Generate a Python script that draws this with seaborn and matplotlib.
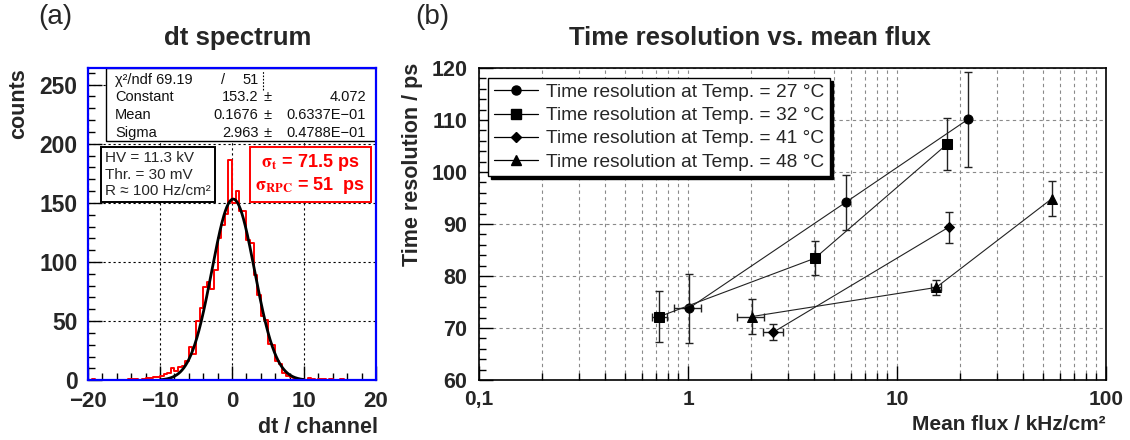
import numpy as np
import pandas as pd
import seaborn as sns
import matplotlib
matplotlib.use("Agg")
import matplotlib.pyplot as plt
from matplotlib.lines import Line2D
from matplotlib.patches import Rectangle
from matplotlib.ticker import MultipleLocator, FixedLocator, FixedFormatter, NullFormatter

# ---------------- panel (a): dt spectrum ----------------
bin_width = 0.5
bin_range = (-20.0, 20.0)
bin_counts = [
    0, 1, 0, 0, 0, 0, 0, 0, 0, 0,
    0, 1, 1, 1, 0, 1, 2, 2, 3, 3,
    4, 5, 6, 10, 8, 11, 12, 16, 28, 22,
    50, 61, 79, 83, 77, 93, 120, 131, 141, 186,
    150, 160, 143, 143, 119, 116, 89, 72, 54, 51,
    31, 30, 16, 14, 6, 4, 3, 2, 1, 1,
    0, 2, 1, 0, 1, 1, 0, 1, 0, 0,
    1, 0, 0, 0, 0, 0, 0, 0, 0, 0,
]
fit_constant = 153.2
fit_mean = 0.1676
fit_sigma = 2.963
fit_range = (-10.0, 10.0)

stats_rows = [
    ("\u03c7\u00b2/ndf 69.19", "/", "51", ""),
    ("Constant", "153.2", "\u00b1", "4.072"),
    ("Mean", "0.1676", "\u00b1", "0.6337E\u221201"),
    ("Sigma", "2.963", "\u00b1", "0.4788E\u221201"),
]
run_info = "HV = 11.3 kV\nThr. = 30 mV\nR \u2248 100 Hz/cm\u00b2"

# ---------------- panel (b): time resolution vs flux ----------------
series_labels = ["Time resolution at Temp. = 27 \u00b0C",
                 "Time resolution at Temp. = 32 \u00b0C",
                 "Time resolution at Temp. = 41 \u00b0C",
                 "Time resolution at Temp. = 48 \u00b0C"]
flux_27 = [1.01, 5.7, 21.8]
res_27 = [73.8, 94.2, 110.1]
res_err_27 = [6.6, 5.3, 9.2]
flux_err_27 = [0.15, 0.0, 0.0]

flux_32 = [0.73, 4.04, 17.3]
res_32 = [72.2, 83.4, 105.3]
res_err_32 = [4.9, 3.3, 5.0]
flux_err_32 = [0.06, 0.15, 0.0]

flux_41 = [2.56, 17.7]
res_41 = [69.2, 89.4]
res_err_41 = [1.6, 3.0]
flux_err_41 = [0.28, 0.0]

flux_48 = [2.02, 15.4, 55.2]
res_48 = [72.2, 77.8, 94.9]
res_err_48 = [3.4, 1.5, 3.3]
flux_err_48 = [0.3, 0.8, 0.0]

markers = ["o", "s", "D", "^"]
marker_sizes = [6.5, 7, 5.5, 7]

# ---------------- style ----------------
sns.set_theme(style="white")
plt.rcParams["font.family"] = ["Liberation Sans", "DejaVu Sans"]
plt.rcParams["mathtext.fontset"] = "stix"
plt.rcParams["axes.unicode_minus"] = True

fig = plt.figure(figsize=(11.3, 4.4), dpi=100)
fig.patch.set_facecolor("white")
ax1 = fig.add_axes([88 / 1130, 1 - 380.3 / 440, 288 / 1130, 312.3 / 440])
ax2 = fig.add_axes([479 / 1130, 1 - 380 / 440, 627 / 1130, 312 / 440])

# ---- panel (a)
n_bins = len(bin_counts)
centers = bin_range[0] + bin_width * (np.arange(n_bins) + 0.5)
hist_df = pd.DataFrame({"dt": centers, "counts": bin_counts})
sns.histplot(data=hist_df, x="dt", weights="counts", bins=n_bins, binrange=bin_range,
             element="step", fill=False, color="red", linewidth=1.4, ax=ax1, zorder=3)
fx = np.linspace(fit_range[0], fit_range[1], 400)
fy = fit_constant * np.exp(-0.5 * ((fx - fit_mean) / fit_sigma) ** 2)
sns.lineplot(x=fx, y=fy, color="black", linewidth=2.0, ax=ax1, zorder=4)

ax1.set_xlim(-20, 20)
ax1.set_ylim(0, 264)
ax1.xaxis.set_major_locator(MultipleLocator(10))
ax1.xaxis.set_minor_locator(MultipleLocator(2))
ax1.yaxis.set_major_locator(MultipleLocator(50))
ax1.yaxis.set_minor_locator(MultipleLocator(10))
ax1.grid(which="major", color="black", linestyle=(0, (2, 2.5)), linewidth=0.8)
ax1.tick_params(which="major", direction="in", length=10, width=1, color="black",
                labelsize=16.5, left=True, bottom=True)
ax1.tick_params(axis="x", which="major", pad=8, labelsize=16)
ax1.tick_params(axis="y", which="major", pad=7.5)
ax1.tick_params(which="minor", direction="in", length=5, width=1, color="black",
                left=True, bottom=True)
for lab in ax1.get_xticklabels() + ax1.get_yticklabels():
    lab.set_fontweight("bold")
for sp in ax1.spines.values():
    sp.set_edgecolor("blue")
    sp.set_linewidth(1.6)
    sp.set_zorder(10)
ax1.set_xlabel("dt / channel", fontsize=15.5, fontweight="bold", loc="right")
ax1.xaxis.set_label_coords(1.007, -0.117)
ax1.set_ylabel("counts", fontsize=15.5, fontweight="bold", loc="top")
ax1.yaxis.set_label_coords(-0.205, 1.0)

# stats box
sx0 = (106 - 88) / 288
sy0 = (380.3 - 141) / 312.3
ax1.add_patch(Rectangle((sx0, sy0), 1 - sx0, 1 - sy0, transform=ax1.transAxes,
                        facecolor="white", edgecolor="black", linewidth=1.0, zorder=6))
row_y = [0.962, 0.906, 0.850, 0.793]
for (c0, c1, c2, c3), yy in zip(stats_rows, row_y):
    kw = dict(transform=ax1.transAxes, fontsize=10.5, va="center", zorder=7, color="#111111")
    ax1.text(0.094, yy, c0, ha="left", **kw)
    if c1 == "/":
        ax1.text(0.47, yy, c1, ha="center", **kw)
        ax1.text(0.592, yy, c2, ha="right", **kw)
    else:
        ax1.text(0.592, yy, c1, ha="right", **kw)
        ax1.text(0.625, yy, c2, ha="center", **kw)
        ax1.text(0.965, yy, c3, ha="right", **kw)
ax1.plot([0.608, 0.608], [0.93, 0.995], transform=ax1.transAxes, color="black",
         linestyle=(0, (1.5, 1.5)), linewidth=0.8, zorder=7)

# run info box
ax1.text(0.06, 0.735, run_info, transform=ax1.transAxes, fontsize=11, ha="left", va="top",
         linespacing=1.25, zorder=7,
         bbox=dict(boxstyle="square,pad=0.25", facecolor="white", edgecolor="black", linewidth=1.4))
# sigma box
ax1.text(0.771, 0.66, "$\\mathbf{\\sigma_{t}}$ = 71.5 ps\n$\\mathbf{\\sigma_{RPC}}$ = 51  ps",
         transform=ax1.transAxes, fontsize=13, fontweight="bold", color="red",
         ha="center", va="center", linespacing=1.15, zorder=7,
         bbox=dict(boxstyle="square,pad=0.3", facecolor="white", edgecolor="red", linewidth=1.4))

# ---- panel (b)
all_flux = [flux_27, flux_32, flux_41, flux_48]
all_res = [res_27, res_32, res_41, res_48]
all_rerr = [res_err_27, res_err_32, res_err_41, res_err_48]
all_ferr = [flux_err_27, flux_err_32, flux_err_41, flux_err_48]
for fl, rs, re_, fe, mk, ms in zip(all_flux, all_res, all_rerr, all_ferr, markers, marker_sizes):
    ax2.errorbar(fl, rs, yerr=re_, xerr=fe, fmt="none", ecolor="#222222",
                 elinewidth=1.0, capsize=3, capthick=1.0, zorder=3)
    sns.lineplot(x=fl, y=rs, marker=mk, markersize=ms, color="#222222", linewidth=0.8,
                 markeredgecolor="black", markerfacecolor="black", ax=ax2, zorder=4,
                 legend=False, sort=False)

ax2.set_xscale("log")
ax2.set_xlim(0.1, 100)
ax2.set_ylim(60, 120)
minor_x = [m * 10.0 ** e for e in (-1, 0, 1) for m in range(2, 10)]
ax2.xaxis.set_major_locator(FixedLocator([0.1, 1, 10, 100]))
ax2.xaxis.set_major_formatter(FixedFormatter(["0,1", "1", "10", "100"]))
ax2.xaxis.set_minor_locator(FixedLocator(minor_x))
ax2.xaxis.set_minor_formatter(NullFormatter())
ax2.yaxis.set_major_locator(MultipleLocator(10))
ax2.yaxis.set_minor_locator(MultipleLocator(2))
ax2.grid(which="both", axis="x", color="#8a8a8a", linestyle=(0, (3, 3)), linewidth=0.8)
ax2.grid(which="major", axis="y", color="#8a8a8a", linestyle=(0, (3, 3)), linewidth=0.8)
ax2.tick_params(which="major", direction="in", length=10, width=1, color="black",
                labelsize=15.5, left=True, bottom=True)
ax2.tick_params(axis="x", which="major", pad=7.5, labelsize=15)
ax2.tick_params(axis="y", which="major", pad=8.5)
ax2.tick_params(which="minor", direction="in", length=5, width=1, color="black",
                left=True, bottom=True)
for lab in ax2.get_xticklabels() + ax2.get_yticklabels():
    lab.set_fontweight("bold")
for sp in ax2.spines.values():
    sp.set_edgecolor("black")
    sp.set_linewidth(1.2)
ax2.set_xlabel("Mean flux / kHz/cm\u00b2", fontsize=15, fontweight="bold", loc="right")
ax2.xaxis.set_label_coords(1.0, -0.112)
ax2.set_ylabel("Time resolution / ps", fontsize=15.5, fontweight="bold", loc="top")
ax2.yaxis.set_label_coords(-0.089, 1.016)

handles = [Line2D([], [], color="black", linewidth=0.9, marker=mk, markersize=ms,
                  markerfacecolor="black", markeredgecolor="black")
           for mk, ms in zip(markers, marker_sizes)]
leg = ax2.legend(handles, series_labels, loc="upper left", bbox_to_anchor=(0.0144, 0.968),
                 borderaxespad=0, fontsize=13.8, frameon=True, fancybox=False, framealpha=1,
                 edgecolor="black", handlelength=2.3, handletextpad=0.45, labelspacing=0.3,
                 borderpad=0.3, shadow={"color": "black", "alpha": 1.0})
leg.get_frame().set_linewidth(1.0)
leg.set_zorder(10)

# titles and panel tags
fig.text(238 / 1130, 1 - 38 / 440, "dt spectrum", fontsize=18.5, fontweight="bold",
         ha="center", va="center")
fig.text(750 / 1130, 1 - 38 / 440, "Time resolution vs. mean flux", fontsize=18.5,
         fontweight="bold", ha="center", va="center")
fig.text(55 / 1130, 1 - 17 / 440, "(a)", fontsize=20, ha="center", va="center")
fig.text(432 / 1130, 1 - 17 / 440, "(b)", fontsize=20, ha="center", va="center")

fig.savefig("out.png", dpi=100, facecolor="white")
